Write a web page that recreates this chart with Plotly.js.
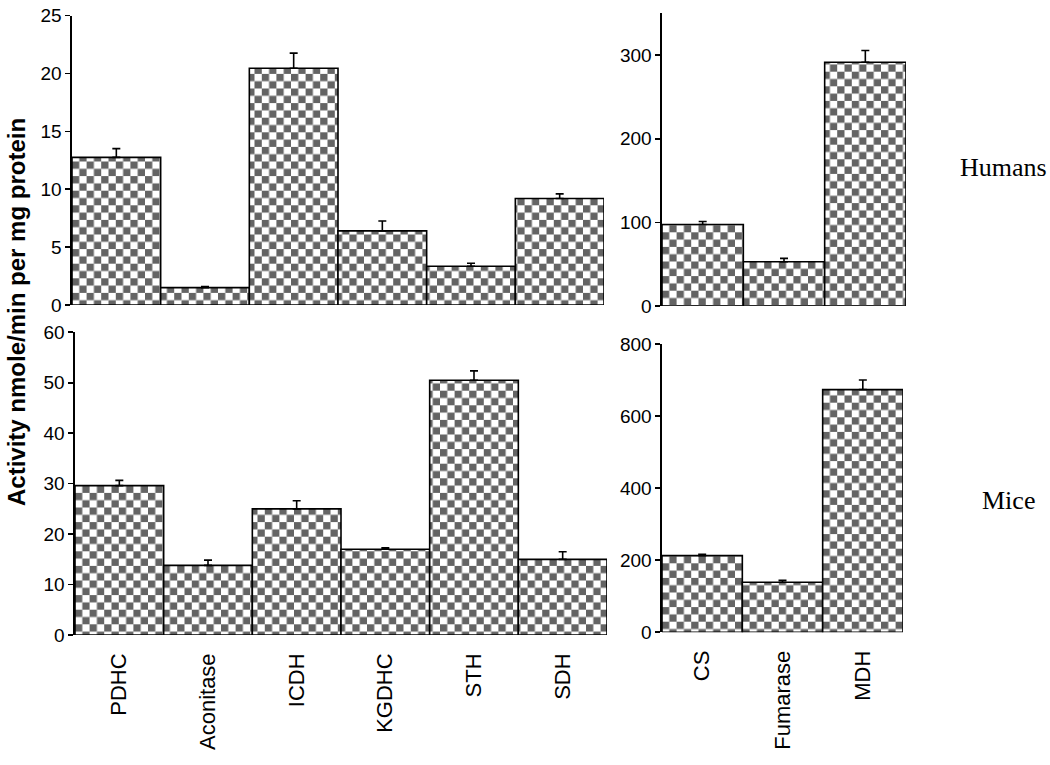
<!DOCTYPE html>
<html>
<head>
<meta charset="utf-8">
<script src="https://cdn.plot.ly/plotly-3.0.1.min.js"></script>
<style>
html,body{margin:0;padding:0;background:#fff;}
#chart{width:1050px;height:765px;}
</style>
</head>
<body>
<div id="chart"></div>
<script>
// ---- data ----
const tca1Categories = ["PDHC", "Aconitase", "ICDH", "KGDHC", "STH", "SDH"];
const tca2Categories = ["CS", "Fumarase", "MDH"];

const humansTca1 = [12.75, 1.5, 20.45, 6.4, 3.35, 9.2];
const humansTca1Err = [0.75, 0.1, 1.3, 0.85, 0.25, 0.4];
const humansTca2 = [97.5, 53, 291.5];
const humansTca2Err = [3.5, 4, 14];

const miceTca1 = [29.6, 13.8, 25.0, 17.0, 50.5, 15.0];
const miceTca1Err = [1.05, 1.05, 1.6, 0.3, 1.85, 1.5];
const miceTca2 = [213, 139, 674];
const miceTca2Err = [4, 5.5, 27];

const rowLabels = ["Humans", "Mice"];
const yTitle = "Activity nmole/min per mg protein";

// ---- styling ----
const DARK = "#646464";
const CELL = 7.3;
const sans = "Liberation Sans, Arial, sans-serif";

function barTrace(cats, vals, errs, xa, ya) {
  return {
    type: "bar",
    x: cats, y: vals,
    xaxis: xa, yaxis: ya,
    marker: {
      color: "white",
      line: {color: "black", width: 1.6},
      pattern: {shape: ".", fgcolor: DARK, bgcolor: "white", size: CELL * 2, solidity: 0.5}
    },
    error_y: {type: "data", symmetric: false, array: errs, arrayminus: errs.map(() => 0),
              color: "black", thickness: 1.6, width: 4},
    hoverinfo: "skip",
    showlegend: false
  };
}

const data = [
  barTrace(tca1Categories, humansTca1, humansTca1Err, "x", "y"),
  barTrace(tca2Categories, humansTca2, humansTca2Err, "x2", "y2"),
  barTrace(tca1Categories, miceTca1, miceTca1Err, "x3", "y3"),
  barTrace(tca2Categories, miceTca2, miceTca2Err, "x4", "y4")
];

function yAxis(range, dtick, domain, anchor) {
  return {
    domain: domain, anchor: anchor, range: range, dtick: dtick, tick0: 0,
    showgrid: false, zeroline: false,
    showline: true, linecolor: "black", linewidth: 1.6,
    ticks: "outside", ticklen: 5, tickwidth: 1.6, tickcolor: "black",
    tickfont: {family: sans, size: 19, color: "black"},
    fixedrange: true
  };
}
function xAxis(domain, anchor, showLabels) {
  return {
    domain: domain, anchor: anchor, type: "category",
    showgrid: false, zeroline: false, showline: false, ticks: "",
    showticklabels: showLabels, tickangle: -90, ticklabelstandoff: 13,
    tickfont: {family: sans, size: 22, color: "black"},
    fixedrange: true
  };
}

const W = 1050, H = 765;
const layout = {
  width: W, height: H,
  margin: {l: 0, r: 0, t: 0, b: 0},
  paper_bgcolor: "white", plot_bgcolor: "white",
  bargap: 0,
  xaxis:  xAxis([72 / W, 604 / W], "y", false),
  yaxis:  yAxis([0, 25], 5, [1 - 305 / H, 1 - 15.5 / H], "x"),
  xaxis2: xAxis([662 / W, 906 / W], "y2", false),
  yaxis2: yAxis([0, 350], 100, [1 - 306 / H, 1 - 13.3 / H], "x2"),
  xaxis3: xAxis([75 / W, 607 / W], "y3", true),
  yaxis3: yAxis([0, 60], 10, [1 - 635 / H, 1 - 332.3 / H], "x3"),
  xaxis4: xAxis([662 / W, 903 / W], "y4", true),
  yaxis4: yAxis([0, 800], 200, [1 - 632.3 / H, 1 - 344.3 / H], "x4"),
  annotations: [
    {text: yTitle, xref: "paper", yref: "paper", x: 16 / W, y: 1 - 312 / H,
     xanchor: "center", yanchor: "middle", textangle: -90, showarrow: false,
     font: {family: sans, size: 24, color: "black", weight: "bold"}},
    {text: rowLabels[0], xref: "paper", yref: "paper", x: 1003 / W, y: 1 - 167 / H,
     xanchor: "center", yanchor: "middle", showarrow: false,
     font: {family: "Liberation Serif, Times New Roman, serif", size: 26, color: "black"}},
    {text: rowLabels[1], xref: "paper", yref: "paper", x: 1008 / W, y: 1 - 500 / H,
     xanchor: "center", yanchor: "middle", showarrow: false,
     font: {family: "Liberation Serif, Times New Roman, serif", size: 26, color: "black"}}
  ]
};

// turn the library's dot pattern into a checkerboard fill
function applyChecker(gd) {
  const NS = "http://www.w3.org/2000/svg";
  gd.querySelectorAll("pattern").forEach(p => {
    while (p.firstChild) p.removeChild(p.firstChild);
    p.setAttribute("width", 2 * CELL);
    p.setAttribute("height", 2 * CELL);
    const mk = (x, y, w, h, fill) => {
      const r = document.createElementNS(NS, "rect");
      r.setAttribute("x", x); r.setAttribute("y", y);
      r.setAttribute("width", w); r.setAttribute("height", h);
      r.setAttribute("fill", fill);
      p.appendChild(r);
    };
    mk(0, 0, 2 * CELL, 2 * CELL, "white");
    mk(0, 0, CELL, CELL, DARK);
    mk(CELL, CELL, CELL, CELL, DARK);
  });
}

Plotly.newPlot("chart", data, layout, {staticPlot: true, displayModeBar: false})
  .then(gd => applyChecker(gd));
</script>
</body>
</html>
